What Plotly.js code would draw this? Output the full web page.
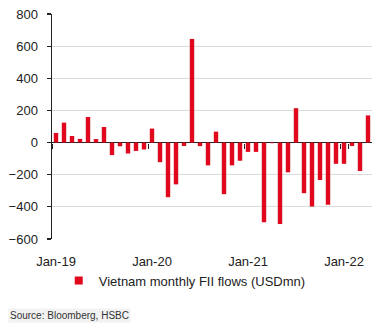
<!DOCTYPE html>
<html>
<head>
<meta charset="utf-8">
<script src="https://cdn.plot.ly/plotly-3.0.1.min.js"></script>
<style>html,body{margin:0;padding:0;background:#fff;}#chart{width:381px;height:327px;}</style>
</head>
<body>
<div id="chart"></div>
<script>
const months = [
  'Jan-19','Feb-19','Mar-19','Apr-19','May-19','Jun-19','Jul-19','Aug-19','Sep-19','Oct-19','Nov-19','Dec-19',
  'Jan-20','Feb-20','Mar-20','Apr-20','May-20','Jun-20','Jul-20','Aug-20','Sep-20','Oct-20','Nov-20','Dec-20',
  'Jan-21','Feb-21','Mar-21','Apr-21','May-21','Jun-21','Jul-21','Aug-21','Sep-21','Oct-21','Nov-21','Dec-21',
  'Jan-22','Feb-22','Mar-22','Apr-22'
];
const fiiFlows = [
  60, 124, 41, 23, 159, 22, 97, -78, -23, -68, -52, -43,
  87, -122, -340, -260, -21, 645, -22, -142, 68, -321, -142, -113,
  -58, -58, -496, -4, -507, -185, 214, -315, -398, -233, -387, -132,
  -132, -21, -177, 169
];
const tickLabels = ['Jan-19','Jan-20','Jan-21','Jan-22'];
const seriesName = 'Vietnam monthly FII flows (USDmn)';
const sourceText = 'Source: Bloomberg, HSBC';

const red = '#E0081C';
const ink = '#222222';
const font = 'Liberation Sans, Arial, sans-serif';
const yMin = -600, yMax = 800;
const xRange = [-0.5, months.length - 0.5];

const traces = [
  {type: 'bar', x: months, y: fiiFlows, marker: {color: red}, showlegend: false, hoverinfo: 'x+y'},
  {type: 'bar', x: months, y: fiiFlows, xaxis: 'x2', marker: {color: 'rgba(0,0,0,0)'}, showlegend: false, hoverinfo: 'skip'},
  {type: 'scatter', mode: 'markers', x: [null], y: [null], name: seriesName,
   marker: {symbol: 'square', size: 8, color: red}}
];

const layout = {
  width: 381, height: 327,
  margin: {l: 52, r: 9, t: 14, b: 88},
  paper_bgcolor: '#ffffff', plot_bgcolor: '#ffffff',
  font: {family: font, size: 13, color: ink},
  bargap: 0.45,
  showlegend: true,
  xaxis: {
    type: 'category', categoryorder: 'array', categoryarray: months,
    range: xRange, tickmode: 'array', tickvals: tickLabels, ticktext: tickLabels,
    ticks: '', showgrid: false, showline: false, zeroline: false,
    tickfont: {family: font, size: 13, color: ink}, ticklabelstandoff: 13
  },
  xaxis2: {
    type: 'category', categoryorder: 'array', categoryarray: months,
    overlaying: 'x', anchor: 'free', position: (0 - yMin) / (yMax - yMin),
    range: xRange, tickmode: 'array', tickvals: tickLabels, tickson: 'boundaries',
    ticks: 'outside', ticklen: 5, tickwidth: 1, tickcolor: ink,
    showticklabels: false, showgrid: false, showline: false, zeroline: false
  },
  yaxis: {
    range: [yMin, yMax], tick0: 0, dtick: 200,
    showgrid: true, gridcolor: '#dcdcdc', gridwidth: 1,
    zeroline: true, zerolinecolor: ink, zerolinewidth: 1.5,
    showline: true, linecolor: ink, linewidth: 1.5,
    ticks: 'outside', ticklen: 4, tickwidth: 1.2, tickcolor: ink,
    tickfont: {family: font, size: 13, color: ink}, ticklabelstandoff: 6
  },
  legend: {
    orientation: 'h', x: 0.021, xanchor: 'left', y: -0.118, yanchor: 'top',
    font: {family: font, size: 13, color: ink}, bgcolor: 'rgba(0,0,0,0)'
  },
  annotations: [{
    text: sourceText, xref: 'paper', yref: 'paper',
    x: -0.1375, xanchor: 'left', y: -0.342, yanchor: 'middle',
    showarrow: false, font: {family: font, size: 10, color: '#333333'},
    bgcolor: '#f2f2f2', borderpad: 1
  }]
};

Plotly.newPlot('chart', traces, layout, {displayModeBar: false, staticPlot: true});
</script>
</body>
</html>
